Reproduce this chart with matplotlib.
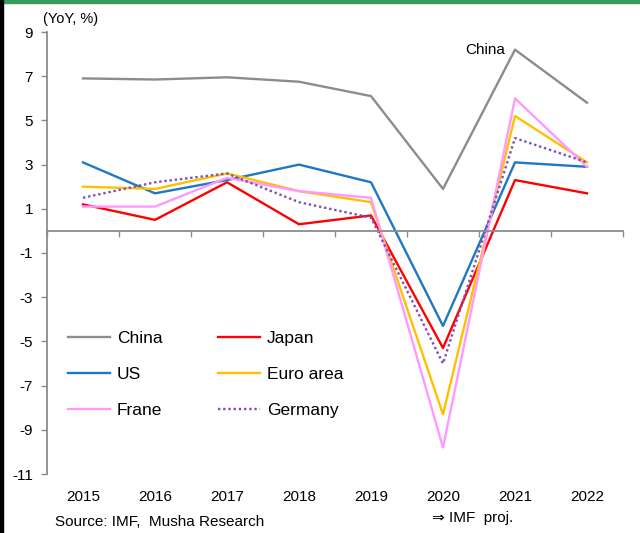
import numpy as np
import matplotlib
matplotlib.use("Agg")
import matplotlib.pyplot as plt
from matplotlib.patches import Rectangle

plt.rcParams['font.family'] = ['Liberation Sans', 'DejaVu Sans']

#-----Data-----#
years = ["2015", "2016", "2017", "2018", "2019", "2020", "2021", "2022"]

china = [6.9, 6.85, 6.95, 6.75, 6.1, 1.9, 8.2, 5.8]
japan = [1.2, 0.5, 2.2, 0.3, 0.7, -5.3, 2.3, 1.7]
us = [3.1, 1.7, 2.3, 3.0, 2.2, -4.3, 3.1, 2.9]
euro = [2.0, 1.9, 2.6, 1.8, 1.3, -8.3, 5.2, 3.1]
france = [1.1, 1.1, 2.4, 1.8, 1.5, -9.8, 6.0, 2.9]
germany = [1.5, 2.2, 2.6, 1.3, 0.6, -6.0, 4.2, 3.1]

yticks = [9, 7, 5, 3, 1, -1, -3, -5, -7, -9, -11]


#-----Plot-----#
fig = plt.figure(figsize=(6.4, 5.33), dpi=100)
ax = fig.add_axes([47 / 640, 1 - 474 / 533, 576 / 640, 442 / 533])

x = np.arange(len(years))
lw = 1.7

lChina, = ax.plot(x, china, color="#8c8c8c", lw=lw, label="China")
lJapan, = ax.plot(x, japan, color="#ff0000", lw=lw, label="Japan")
lUs, = ax.plot(x, us, color="#1f78c1", lw=lw, label="US")
lEuro, = ax.plot(x, euro, color="#ffc000", lw=lw, label="Euro area")
lFrance, = ax.plot(x, france, color="#ff99ff", lw=lw, label="Frane")
lGermany, = ax.plot(x, germany, color="#7f4fb3", lw=lw, ls=(0, (1, 1.2)), label="Germany")

ax.set_xlim(-0.5, len(years) - 0.5)
ax.set_ylim(-11, 9)

# spines
for s in ["top", "right"]:
    ax.spines[s].set_visible(False)
ax.spines["left"].set_color("#8c8c8c")
ax.spines["left"].set_linewidth(1.3)
ax.spines["bottom"].set_position(("data", 0))
ax.spines["bottom"].set_color("#8c8c8c")
ax.spines["bottom"].set_linewidth(1.3)

ax.set_yticks(yticks)
ax.set_yticklabels([str(v) for v in yticks], fontsize=11)
ax.tick_params(axis="y", direction="out", length=4, color="#8c8c8c", width=1.0, pad=6)

ax.set_xticks(np.arange(-0.5, len(years), 1.0))
ax.set_xticklabels([])
ax.tick_params(axis="x", direction="out", length=4, color="#8c8c8c", width=1.0)

for i, yr in enumerate(years):
    ax.text(i, -0.052, yr, transform=ax.get_xaxis_transform(),
            ha="center", va="center", fontsize=11)

ax.text(5.86, 8.2, "China", ha="right", va="center", fontsize=11)

# row-wise legend order like the original
handles = [lChina, lUs, lFrance, lJapan, lEuro, lGermany]
ax.legend(handles=handles, labels=[h.get_label() for h in handles],
          ncol=2, frameon=False, fontsize=12.5, loc="upper left",
          bbox_to_anchor=(0.01, 0.36), handlelength=2.4, handletextpad=0.4,
          labelspacing=1.2, columnspacing=3.2)

fig.text(43 / 640, 1 - 19 / 533, "(YoY, %)", fontsize=10.5, va="center", ha="left")
fig.text(55 / 640, 1 - 522 / 533, "Source: IMF,  Musha Research", fontsize=11,
         va="center", ha="left")
fig.text(432 / 640, 1 - 518 / 533, "\u21d2 IMF  proj.", fontsize=11,
         va="center", ha="left")

# frame decorations
fig.patches.append(Rectangle((0, 1 - 3 / 533), 1, 3 / 533, transform=fig.transFigure,
                             color="#3a9a5c", zorder=5))
fig.patches.append(Rectangle((0, 0), 3 / 640, 1, transform=fig.transFigure,
                             color="black", zorder=5))

fig.savefig("out.png", dpi=100)
